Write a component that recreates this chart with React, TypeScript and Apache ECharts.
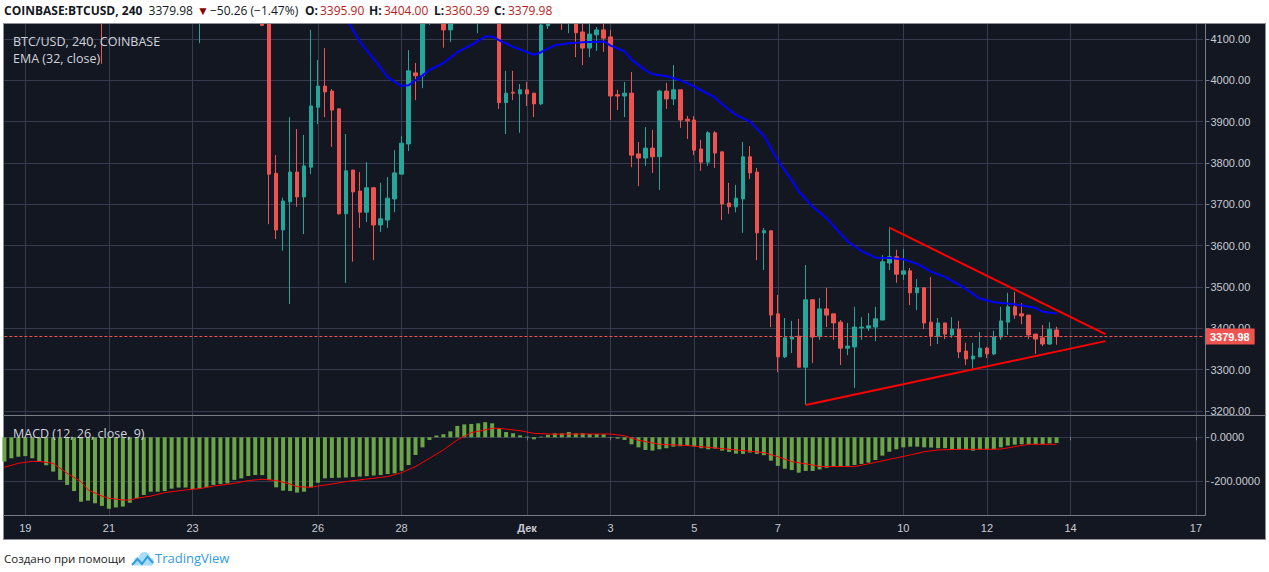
import React, { useEffect, useRef } from 'react';
import * as echarts from 'echarts';

// ---------- categories (4h bars) ----------
const START_UTC = Date.UTC(2018, 10, 18, 12);
const SLOT_COUNT = 173;
const categories: string[] = Array.from({ length: SLOT_COUNT }, (_, i) =>
  new Date(START_UTC + i * 4 * 3600 * 1000).toISOString().slice(0, 16).replace('T', ' ')
);

const tickIndex = [3, 15, 27, 45, 57, 75, 87, 99, 111, 129, 141, 153, 171];
const tickLabels = ['19', '21', '23', '26', '28', 'Дек', '3', '5', '7', '10', '12', '14', '17'];
const monthLabels = ['Дек'];

// ---------- candles: [open, close, low, high] ----------
const candles = [
  [5560, 5600, 5520, 5640], [5600, 5570, 5540, 5620], [5570, 5560, 5520, 5600], [5560, 5450, 5400, 5580],
  [5450, 5300, 5250, 5470], [5300, 5250, 5100, 5320], [5250, 5000, 4950, 5280], [5000, 4800, 4700, 5020],
  [4800, 4700, 4600, 4850], [4700, 4650, 4550, 4750], [4650, 4500, 4400, 4680], [4500, 4400, 4300, 4520],
  [4400, 4450, 4350, 4500], [4450, 4400, 4250, 4480], [4400, 4290, 4040, 4420], [4290, 4450, 4250, 4480],
  [4450, 4520, 4400, 4560], [4520, 4600, 4480, 4650], [4600, 4560, 4500, 4620], [4560, 4600, 4520, 4640],
  [4600, 4580, 4540, 4620], [4580, 4540, 4500, 4600], [4540, 4520, 4490, 4570], [4520, 4480, 4460, 4550],
  [4480, 4420, 4380, 4500], [4420, 4350, 4300, 4440], [4350, 4320, 4280, 4380], [4320, 4300, 4200, 4340],
  [4300, 4320, 4090, 4340], [4320, 4360, 4280, 4400], [4360, 4340, 4300, 4380], [4340, 4370, 4310, 4390],
  [4370, 4380, 4340, 4400], [4380, 4350, 4330, 4400], [4350, 4320, 4300, 4370], [4320, 4280, 4260, 4340],
  [4280, 4250, 4200, 4300], [4250, 4133, 4131, 4260], [4145, 3773, 3652, 4150], [3775, 3638, 3616, 3819],
  [3638, 3708, 3588, 3716], [3706, 3778, 3459, 3911], [3778, 3718, 3694, 3882], [3718, 3793, 3628, 3868],
  [3790, 3938, 3773, 4122], [3935, 3986, 3894, 4049], [3986, 3972, 3911, 4078], [3974, 3928, 3839, 3979],
  [3931, 3677, 3675, 3931], [3677, 3781, 3510, 3870], [3783, 3730, 3561, 3783], [3732, 3681, 3643, 3778],
  [3681, 3740, 3657, 3802], [3740, 3650, 3565, 3742], [3650, 3665, 3633, 3752], [3662, 3715, 3643, 3766],
  [3713, 3776, 3681, 3831], [3773, 3848, 3773, 3865], [3846, 4023, 3829, 4073], [4018, 4011, 3952, 4042],
  [4011, 4190, 3981, 4230], [4190, 4230, 4134, 4260], [4230, 4250, 4170, 4290], [4250, 4122, 4079, 4270],
  [4122, 4200, 4093, 4230], [4200, 4250, 4160, 4280], [4250, 4280, 4200, 4320], [4280, 4300, 4240, 4350],
  [4300, 4320, 4114, 4360], [4320, 4350, 4280, 4400], [4350, 4300, 4260, 4400], [4300, 3946, 3931, 4310],
  [3946, 3969, 3870, 4023], [3971, 3969, 3952, 4023], [3967, 3977, 3873, 3991], [3977, 3967, 3938, 3996],
  [3969, 3943, 3911, 3969], [3943, 4134, 3940, 4160], [4132, 4160, 4124, 4190], [4160, 4200, 4150, 4230],
  [4200, 4170, 4122, 4220], [4170, 4200, 4114, 4230], [4200, 4115, 4056, 4210], [4117, 4078, 4037, 4150],
  [4078, 4112, 4056, 4145], [4110, 4122, 4071, 4129], [4122, 4102, 4069, 4145], [4105, 3962, 3904, 4122],
  [3965, 3962, 3928, 3977], [3962, 3969, 3911, 3996], [3969, 3819, 3790, 4020], [3822, 3812, 3744, 3851],
  [3812, 3836, 3793, 3887], [3836, 3815, 3776, 3880], [3815, 3974, 3735, 3977], [3974, 3955, 3931, 3994],
  [3955, 3977, 3940, 4037], [3977, 3904, 3885, 3977], [3906, 3902, 3858, 3914], [3904, 3831, 3819, 3914],
  [3834, 3802, 3781, 3856], [3802, 3873, 3793, 3877], [3873, 3824, 3788, 3877], [3827, 3701, 3662, 3827],
  [3703, 3694, 3677, 3752], [3694, 3715, 3681, 3747], [3713, 3815, 3631, 3851], [3815, 3776, 3761, 3841],
  [3778, 3631, 3565, 3788], [3631, 3636, 3541, 3643], [3636, 3432, 3403, 3636], [3435, 3331, 3294, 3481],
  [3331, 3377, 3328, 3425], [3374, 3379, 3340, 3418], [3381, 3306, 3306, 3423], [3306, 3469, 3215, 3553],
  [3469, 3379, 3316, 3471], [3381, 3447, 3372, 3473], [3447, 3432, 3403, 3498], [3435, 3413, 3372, 3435],
  [3415, 3352, 3311, 3420], [3352, 3357, 3335, 3413], [3355, 3403, 3256, 3452], [3401, 3403, 3372, 3427],
  [3401, 3406, 3394, 3437], [3403, 3423, 3369, 3452], [3420, 3561, 3420, 3577], [3558, 3573, 3541, 3645],
  [3573, 3531, 3510, 3590], [3531, 3539, 3517, 3592], [3539, 3486, 3456, 3546], [3486, 3498, 3444, 3519],
  [3498, 3413, 3398, 3498], [3415, 3381, 3357, 3524], [3381, 3413, 3362, 3425], [3413, 3386, 3374, 3413],
  [3384, 3398, 3377, 3427], [3398, 3343, 3328, 3418], [3345, 3326, 3311, 3365], [3326, 3333, 3302, 3365],
  [3331, 3352, 3331, 3391], [3352, 3338, 3328, 3355], [3338, 3379, 3335, 3394], [3379, 3418, 3372, 3452],
  [3415, 3452, 3384, 3486], [3452, 3432, 3423, 3488], [3435, 3430, 3410, 3461], [3432, 3384, 3374, 3432],
  [3386, 3374, 3338, 3386], [3377, 3362, 3357, 3408], [3362, 3398, 3360, 3415], [3395.9, 3379.98, 3360.39, 3404.0],
];

// ---------- EMA(32): [barIndex, value] ----------
const emaPoints = [
  [47, 4205], [48, 4180], [49, 4151], [51, 4094], [52, 4072], [54, 4031], [55, 4007], [57, 3986], [58, 3988],
  [60, 4012], [61, 4025], [63, 4042], [65, 4068], [67, 4086], [69, 4106], [70, 4106], [71, 4097], [73, 4081],
  [76, 4062], [77, 4068], [79, 4085], [81, 4090], [83, 4092], [86, 4094], [87, 4084], [88, 4077], [89, 4070],
  [90, 4050], [92, 4024], [93, 4015], [95, 4010], [97, 4000], [98, 3993], [100, 3976], [102, 3958], [103, 3942],
  [105, 3916], [107, 3900], [109, 3866], [111, 3806], [113, 3758], [114, 3731], [116, 3694], [118, 3666],
  [121, 3610], [123, 3587], [125, 3571], [127, 3570], [129, 3567], [131, 3556], [133, 3537], [135, 3524],
  [137, 3506], [140, 3472], [142, 3463], [145, 3458], [148, 3449], [149, 3440], [151, 3436],
];

// ---------- triangle trend lines ----------
const upperTrend = [[127, 3643.5], [158, 3386]];
const lowerTrend = [[115, 3214.5], [158, 3369]];

// ---------- MACD ----------
const macdHist = [
  -111, -96, -89, -86, -96, -111, -128, -157, -195, -218,
  -246, -295, -290, -302, -314, -327, -321, -317, -299, -279,
  -264, -249, -249, -246, -235, -230, -230, -237, -235, -229,
  -218, -214, -211, -195, -188, -177, -173, -173, -195, -229,
  -244, -246, -253, -249, -229, -208, -188, -186, -185, -184,
  -182, -180, -178, -175, -173, -168, -165, -153, -127, -81,
  -46, -12, 8, 14, 27, 52, 59, 61, 64, 69,
  64, 41, 24, 18, 9, 3, -9, 3, 11, 18,
  18, 24, 18, 18, 15, 15, 14, -2, -6, -12,
  -32, -46, -58, -61, -55, -50, -43, -41, -40, -43,
  -50, -55, -52, -61, -67, -75, -76, -70, -76, -82,
  -107, -131, -144, -150, -162, -154, -154, -147, -140, -134,
  -134, -131, -127, -122, -116, -104, -84, -66, -55, -46,
  -43, -43, -46, -47, -50, -50, -55, -55, -55, -61,
  -55, -55, -55, -46, -38, -34, -32, -32, -31, -31,
  -28, -26,
];
const signalPoints = [
  [0, -137], [2, -119], [4, -110], [5, -111], [7, -119], [8, -142], [9, -165], [11, -203], [12, -241],
  [14, -269], [15, -279], [17, -287], [18, -287], [19, -279], [21, -269], [23, -253], [26, -241], [28, -235],
  [30, -223], [33, -211], [35, -198], [37, -192], [39, -198], [41, -214], [42, -226], [44, -229], [45, -223],
  [47, -214], [49, -203], [52, -191], [55, -180], [57, -162], [59, -134], [61, -96], [63, -58], [65, -12],
  [67, 21], [70, 41], [71, 41], [74, 30], [76, 18], [79, 14], [81, 15], [87, 15], [89, 7], [91, -14],
  [94, -32], [98, -38], [101, -46], [105, -58], [109, -70], [111, -89], [113, -111], [116, -127], [117, -134],
  [122, -134], [125, -115], [127, -101], [130, -81], [132, -66], [134, -58], [137, -55], [140, -55],
  [143, -54], [145, -43], [147, -32], [151, -32],
];

const lastClose = 3379.98;

// ---------- styling ----------
const UP = '#26a69a';
const DOWN = '#ef5350';
const GRID_COLOR = '#363c4e';
const SEP_COLOR = '#787b86';
const FRAME_COLOR = '#8f929b';
const LABEL_COLOR = '#c8cbd3';
const AXIS_FONT = '"Liberation Sans", Arial, sans-serif';
const UI_FONT = '"Open Sans", "Noto Sans", sans-serif';

const GRID_LEFT = 4.4;
const SLOT_W = 6.968;
const GRID_W = SLOT_W * (SLOT_COUNT - 1);
const PANE_RIGHT = 1205.5;

const tickSet = new Set(tickIndex);
const isTick = (i: number) => tickSet.has(i);
const labelFor = (i: number) => {
  const k = tickIndex.indexOf(i);
  if (k < 0) return '';
  const t = tickLabels[k];
  return monthLabels.includes(t) ? `{b|${t}}` : t;
};

function headerText(text: string, x: number, color: string, bold: boolean) {
  return {
    type: 'text', x, y: 10, z: 100,
    style: { text, fill: color, fontSize: 12, fontWeight: bold ? 'bold' : 'normal', fontFamily: UI_FONT, verticalAlign: 'middle' },
  };
}

function buildOption() {
  const HDR_RED = '#b71c1c';
  const HDR_INK = '#131722';
  return {
    animation: false,
    backgroundColor: 'transparent',
    textStyle: { fontFamily: AXIS_FONT },
    grid: [
      { left: GRID_LEFT, top: 23, width: GRID_W, height: 392 },
      { left: GRID_LEFT, top: 415, width: GRID_W, height: 100.3 },
    ],
    xAxis: [
      {
        type: 'category', gridIndex: 0, data: categories, boundaryGap: false,
        axisLine: { show: false }, axisTick: { show: false }, axisLabel: { show: false },
        splitLine: { show: true, interval: (i: number) => isTick(i), lineStyle: { color: GRID_COLOR, width: 1 } },
      },
      {
        type: 'category', gridIndex: 1, data: categories, boundaryGap: false,
        axisLine: { show: false },
        axisTick: { show: true, interval: (i: number) => isTick(i), length: 3, lineStyle: { color: SEP_COLOR } },
        axisLabel: {
          show: true, interval: (i: number) => isTick(i), formatter: (_v: string, i: number) => labelFor(i),
          color: LABEL_COLOR, fontSize: 11, margin: 7, fontFamily: AXIS_FONT,
          rich: { b: { fontWeight: 'bold', color: LABEL_COLOR, fontSize: 11, fontFamily: AXIS_FONT } },
        },
        splitLine: { show: true, interval: (i: number) => isTick(i), lineStyle: { color: GRID_COLOR, width: 1 } },
      },
    ],
    yAxis: [
      {
        type: 'value', gridIndex: 0, position: 'right', offset: PANE_RIGHT - (GRID_LEFT + GRID_W),
        min: 3190.3, max: 4138.7, minInterval: 100, maxInterval: 100, splitNumber: 9, scale: true,
        axisLine: { show: false },
        axisTick: { show: true, length: 4, lineStyle: { color: SEP_COLOR } },
        axisLabel: { color: LABEL_COLOR, fontSize: 11, margin: 5, fontFamily: AXIS_FONT, showMinLabel: false, showMaxLabel: false, formatter: (v: number) => v.toFixed(2) },
        splitLine: { show: true, lineStyle: { color: GRID_COLOR, width: 1 } },
      },
      {
        type: 'value', gridIndex: 1, position: 'right', offset: PANE_RIGHT - (GRID_LEFT + GRID_W),
        min: -357, max: 102, minInterval: 200, maxInterval: 200, splitNumber: 2, scale: true,
        axisLine: { show: false },
        axisTick: { show: true, length: 4, lineStyle: { color: SEP_COLOR } },
        axisLabel: { color: LABEL_COLOR, fontSize: 11, margin: 5, fontFamily: AXIS_FONT, showMinLabel: false, showMaxLabel: false, formatter: (v: number) => v.toFixed(4) },
        splitLine: { show: true, lineStyle: { color: GRID_COLOR, width: 1 } },
      },
    ],
    series: [
      {
        type: 'candlestick', xAxisIndex: 0, yAxisIndex: 0, data: candles, barWidth: 4, clip: true, silent: true,
        itemStyle: { color: UP, color0: DOWN, borderColor: UP, borderColor0: DOWN, borderWidth: 1 },
        markLine: {
          silent: true, symbol: ['none', 'none'], animation: false,
          data: [{ yAxis: lastClose }],
          lineStyle: { color: DOWN, type: [3, 2], width: 1 },
          label: {
            show: true, position: 'end', formatter: lastClose.toFixed(2), color: '#ffffff', backgroundColor: DOWN,
            padding: [3, 5, 2, 5], fontSize: 11, fontWeight: 'bold', fontFamily: AXIS_FONT, distance: 2,
          },
        },
      },
      {
        type: 'line', xAxisIndex: 0, yAxisIndex: 0, data: emaPoints, symbol: 'none', silent: true, clip: true,
        lineStyle: { color: '#0000ff', width: 2 },
      },
      {
        type: 'line', xAxisIndex: 0, yAxisIndex: 0, data: upperTrend, symbol: 'none', silent: true,
        lineStyle: { color: '#ff0000', width: 2 },
      },
      {
        type: 'line', xAxisIndex: 0, yAxisIndex: 0, data: lowerTrend, symbol: 'none', silent: true,
        lineStyle: { color: '#ff0000', width: 2 },
      },
      {
        type: 'bar', xAxisIndex: 1, yAxisIndex: 1, data: macdHist, barWidth: 4, silent: true,
        itemStyle: { color: '#6ba547' },
      },
      {
        type: 'line', xAxisIndex: 1, yAxisIndex: 1, data: signalPoints, symbol: 'none', silent: true,
        lineStyle: { color: '#ff0000', width: 1 },
      },
    ],
    graphic: [
      // white band above the price pane hides anything drawn past the pane's top
      { type: 'rect', z: 50, shape: { x: 0, y: 0, width: 1269, height: 23 }, style: { fill: '#ffffff' } },
      { type: 'line', z: 100, shape: { x1: 3, y1: 23.5, x2: 1266, y2: 23.5 }, style: { stroke: FRAME_COLOR, lineWidth: 1 } },
      { type: 'line', z: 100, shape: { x1: 3, y1: 415.5, x2: 1266, y2: 415.5 }, style: { stroke: SEP_COLOR, lineWidth: 1 } },
      { type: 'line', z: 100, shape: { x1: PANE_RIGHT, y1: 23.5, x2: PANE_RIGHT, y2: 515.5 }, style: { stroke: SEP_COLOR, lineWidth: 1 } },
      { type: 'line', z: 100, shape: { x1: 3, y1: 515.5, x2: PANE_RIGHT, y2: 515.5 }, style: { stroke: SEP_COLOR, lineWidth: 1 } },
      { type: 'text', x: 13, y: 41, z: 100, style: { text: 'BTC/USD, 240, COINBASE', fill: '#d1d4dc', fontSize: 12.5, fontFamily: UI_FONT, verticalAlign: 'middle' } },
      { type: 'text', x: 13, y: 58, z: 100, style: { text: 'EMA (32, close)', fill: '#d1d4dc', fontSize: 12.5, fontFamily: UI_FONT, verticalAlign: 'middle' } },
      { type: 'text', x: 13, y: 433, z: 100, style: { text: 'MACD (12, 26, close, 9)', fill: '#d1d4dc', fontSize: 12.5, fontFamily: UI_FONT, verticalAlign: 'middle' } },
      headerText('COINBASE:BTCUSD, 240', 4, HDR_INK, true),
      headerText('3379.98', 148.6, HDR_INK, false),
      headerText('▼', 197, '#8b0000', false),
      headerText('−50.26 (−1.47%)', 210, HDR_INK, false),
      headerText('O:', 305, HDR_INK, true),
      headerText('3395.90', 320, HDR_RED, false),
      headerText('H:', 369, HDR_INK, true),
      headerText('3404.00', 384, HDR_RED, false),
      headerText('L:', 434, HDR_INK, true),
      headerText('3360.39', 445, HDR_RED, false),
      headerText('C:', 494, HDR_INK, true),
      headerText('3379.98', 508, HDR_RED, false),
      { type: 'text', x: 4, y: 558, z: 100, style: { text: 'Создано при помощи', fill: '#222222', fontSize: 11.5, fontFamily: UI_FONT, verticalAlign: 'middle' } },
      { type: 'circle', z: 100, shape: { cx: 138, cy: 561, r: 4 }, style: { fill: '#a9dcf8' } },
      { type: 'circle', z: 100, shape: { cx: 144.5, cy: 557.5, r: 5.5 }, style: { fill: '#a9dcf8' } },
      { type: 'circle', z: 100, shape: { cx: 150, cy: 561.5, r: 4 }, style: { fill: '#a9dcf8' } },
      { type: 'rect', z: 100, shape: { x: 134, y: 561, width: 18, height: 4.5 }, style: { fill: '#a9dcf8' } },
      { type: 'polyline', z: 101, shape: { points: [[132, 565], [137.5, 559], [142, 564], [147.5, 556.5], [153, 563]] }, style: { stroke: '#2f9be0', lineWidth: 2, fill: null } },
      { type: 'text', x: 155, y: 558, z: 100, style: { text: 'TradingView', fill: '#2f9be0', fontSize: 13, fontFamily: UI_FONT, verticalAlign: 'middle' } },
    ],
  };
}

export default function App() {
  const ref = useRef<HTMLDivElement>(null);
  useEffect(() => {
    if (!ref.current) return;
    const chart = echarts.init(ref.current, undefined, { renderer: 'svg' });
    chart.setOption(buildOption() as any);
    return () => chart.dispose();
  }, []);
  return (
    <div style={{ position: 'absolute', left: 0, top: 0, width: 1269, height: 572, background: '#ffffff' }}>
      <div style={{ position: 'absolute', left: 3, top: 23, width: 1263, height: 517, background: '#131722', border: '1px solid #8f929b', boxSizing: 'border-box' }} />
      <div ref={ref} style={{ position: 'absolute', left: 0, top: 0, width: 1269, height: 572 }} />
    </div>
  );
}
